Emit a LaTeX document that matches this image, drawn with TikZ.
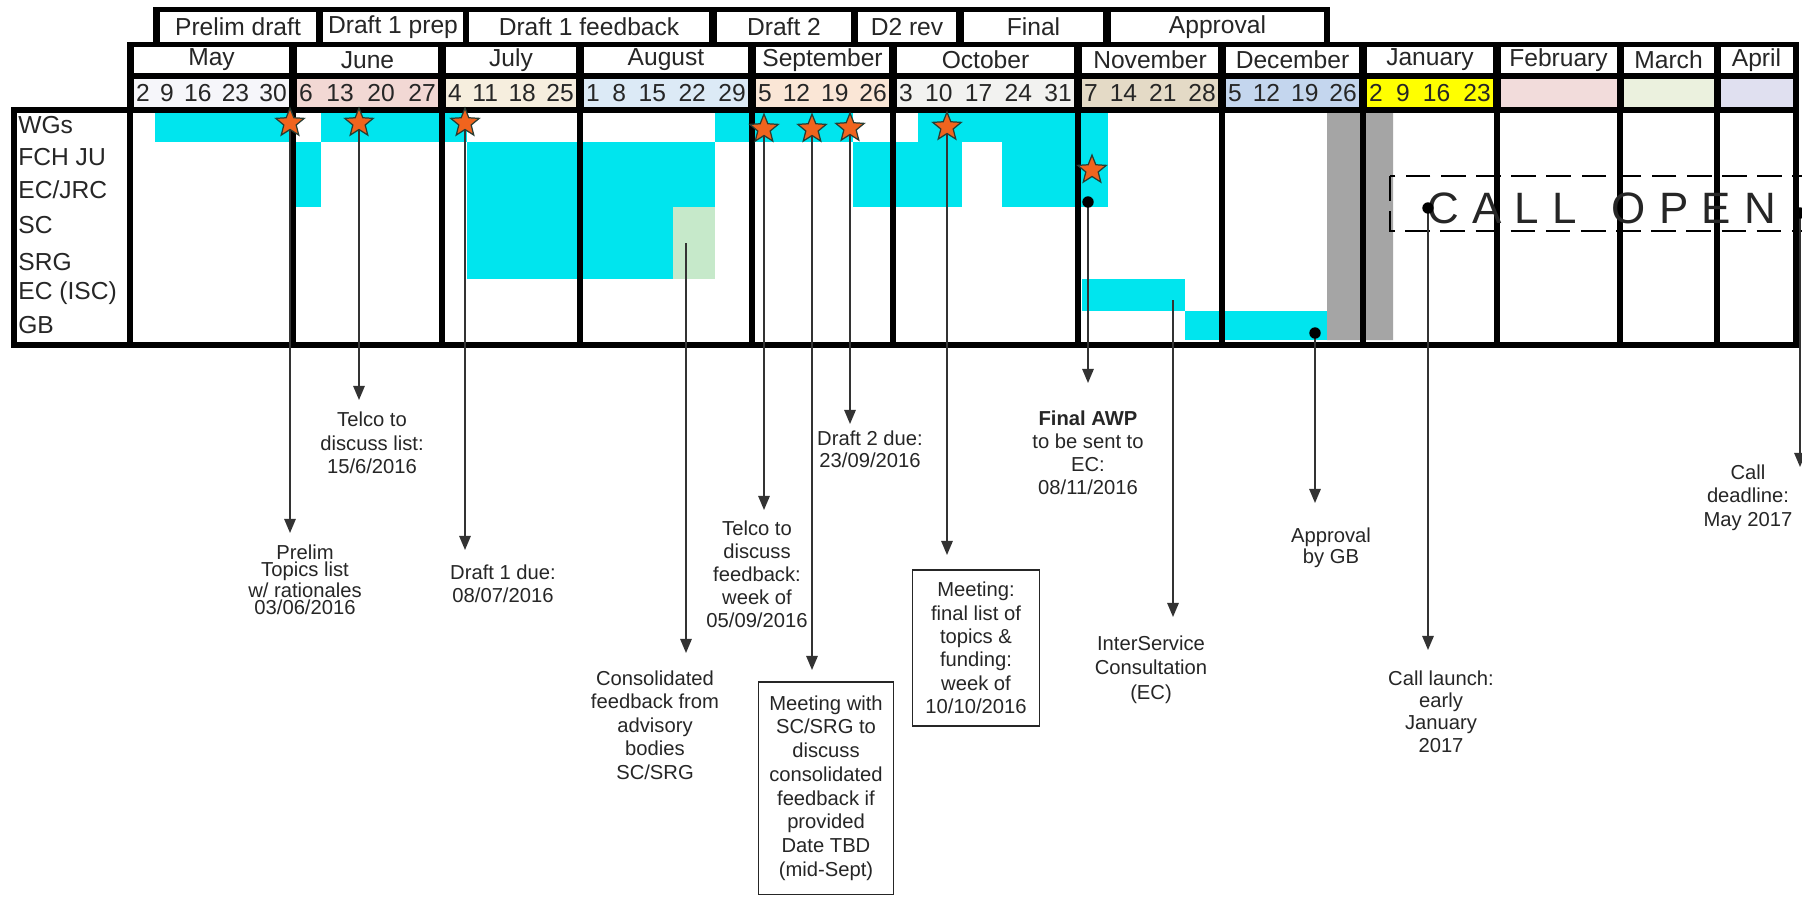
\documentclass[tikz,border=0pt]{standalone}
\usepackage{fontspec}
\setmainfont{Liberation Sans}
\usepackage{tikz}
\usetikzlibrary{shapes.geometric,arrows.meta}

\definecolor{barcyan}{RGB}{0,229,238}
\definecolor{bargreen}{RGB}{198,233,202}
\definecolor{bargray}{RGB}{165,165,165}
\definecolor{starfill}{RGB}{240,100,30}
\definecolor{starline}{RGB}{40,60,50}
\definecolor{dmay}{RGB}{246,246,250}
\definecolor{djun}{RGB}{242,216,212}
\definecolor{djul}{RGB}{246,238,222}
\definecolor{daug}{RGB}{220,234,246}
\definecolor{dsep}{RGB}{250,230,214}
\definecolor{doct}{RGB}{242,242,240}
\definecolor{dnov}{RGB}{228,218,198}
\definecolor{ddec}{RGB}{196,214,238}
\definecolor{djan}{RGB}{255,255,0}
\definecolor{dfeb}{RGB}{242,220,219}
\definecolor{dmar}{RGB}{235,241,222}
\definecolor{dapr}{RGB}{224,224,240}

\newcommand\hdrfont{\fontsize{14}{16}\selectfont}
\newcommand\notefont{\fontsize{11.5}{13.1}\selectfont}
\newcommand\ls{\kern7.5pt}

\begin{document}
\begin{tikzpicture}
  [x=0.02cm,y=-0.02cm,
   frame/.style={line width=2.9pt},
   cell/.style={fill=white, inner sep=0pt, font=\hdrfont, text=black!85},
   bar/.style={fill=barcyan},
   mstar/.style={star, star points=5, star point ratio=2.3, fill=starfill, draw=starline, line width=0.7pt, minimum size=17pt, inner sep=0pt},
   mdot/.style={circle, fill=black, minimum size=6.5pt, inner sep=0pt},
   conn/.style={draw=black!80, line width=0.9pt, -{Triangle[width=6.5pt,length=8pt]}},
   note/.style={align=center, inner sep=0pt, anchor=north, font=\notefont, text=black!85},
   notebox/.style={note, draw=black!85, line width=0.9pt, anchor=center}]

  \useasboundingbox[fill=white] (0,0) rectangle (1802,896);

  % activity bars
  \foreach \xa/\ya/\xb/\yb in {155/112/293/142, 293/142/321/207, 321/112/467/142, 467/142/715/207, 467/207/673/279, 715/112/853/142, 853/142/918/207, 918/112/962/207, 962/112/1002/142, 1002/112/1108/207, 1082/279/1185/311, 1185/311/1327/340}
    \fill[bar] (\xa,\ya) rectangle (\xb,\yb);
  \fill[bargreen] (673,207) rectangle (715,279);
  \fill[bargray] (1327,112) rectangle (1360,340) (1366,112) rectangle (1393,340);

  % header bands
  \fill (153,7) rectangle (1330,46);
  \fill (127,42) rectangle (1799,112);

  \foreach \ph/\a/\b [count=\i] in {Prelim draft/160/316, Draft 1 prep/323/463, Draft 1 feedback/469/709, Draft 2/717/851, D2 rev/858/956, Final/964/1103, Approval/1111/1324}{
    \pgfmathsetmacro\cx{(\a+\b)/2}
    \pgfmathsetmacro\cw{(\b-\a)*0.569}
    \node[cell, minimum width=\cw pt, minimum height=17pt] (p\i) at (\cx,27) {\ph};
  }

  \foreach \mon/\a/\b/\days/\col [count=\i] in {May/130/293/{2\hfill 9\hfill 16\hfill 23\hfill 30}/dmay, June/293/442/{6\hfill 13\hfill 20\hfill 27}/djun, July/442/580/{4\hfill 11\hfill 18\hfill 25}/djul, August/580/752/{1\hfill 8\hfill 15\hfill 22\hfill 29}/daug, September/752/893/{5\hfill 12\hfill 19\hfill 26}/dsep, October/893/1078/{3\hfill 10\hfill 17\hfill 24\hfill 31}/doct, November/1078/1222/{7\hfill 14\hfill 21\hfill 28}/dnov, December/1222/1363/{5\hfill 12\hfill 19\hfill 26}/ddec, January/1363/1497/{2\hfill 9\hfill 16\hfill 23}/djan, February/1497/1620/{}/dfeb, March/1620/1717/{}/dmar, April/1717/1796/{}/dapr}{
    \pgfmathsetmacro\cx{(\a+\b)/2}
    \pgfmathsetmacro\cw{(\b-\a-7)*0.569}
    \pgfmathsetmacro\tw{\cw-3}
    \node[cell, minimum width=\cw pt, minimum height=14.8pt] (m\i) at (\cx,60) {\mon};
    \node[cell, fill=\col, minimum width=\cw pt, minimum height=15.9pt, text width=\tw pt] (w\i) at (\cx,93) {\days};
  }

  % grid
  \draw[frame] (14,110) rectangle (1796,345);
  \foreach \x in {130,293,442,580,752,893,1078,1222,1363,1497,1620,1717}
    \draw[frame] (\x,110) -- (\x,345);

  \foreach \lab/\y [count=\i] in {WGs/125, FCH JU/157, {EC/JRC}/190, SC/225, SRG/262, EC (ISC)/293, GB/325}
    \node[anchor=west, inner sep=0pt, font=\hdrfont, text=black!85] (r\i) at (18,\y) {\lab};

  % call open
  \draw[line width=1.6pt, dash pattern=on 14pt off 6pt] (1390,176) rectangle (1812,231);
  \node[anchor=west, inner sep=0pt, font=\fontsize{25}{30}\selectfont, text=black!85] (co) at (1427,208) {C\ls A\ls L\ls L\kern20pt O\ls P\ls E\ls N};

  % events and arrow tips
  \foreach \n/\x/\y in {1/290/123, 2/359/123, 3/465/123, 4/686/243, 5/764/129, 6/812/129, 7/850/128, 8/947/127, 9/1088/202, 10/1173/300, 11/1315/333, 12/1428/208, 13/1800/213, 14/1092/170}
    \coordinate (e\n) at (\x,\y);
  \foreach \n/\x/\y in {1/290/533, 2/359/400, 3/465/550, 4/686/653, 5/764/510, 6/812/670, 7/850/424, 8/947/555, 9/1088/383, 10/1173/617, 11/1315/503, 12/1428/650, 13/1800/467}
    \coordinate (t\n) at (\x,\y);

  \foreach \from/\to in {e1/t1, e2/t2, e3/t3, e4/t4, e5/t5, e6/t6, e7/t7, e8/t8, e9/t9, e10/t10, e11/t11, e12/t12, e13/t13}
    \draw[conn] (\from) -- (\to);

  \foreach \n in {1,2,3,5,6,7,8,14}
    \node[mstar] (s\n) at (e\n) {};
  \foreach \n in {9,11,12,13}
    \node[mdot] (d\n) at (e\n) {};

  % notes
  \node[note, font=\fontsize{11.5}{10}\selectfont] (l1) at (305,544) {Prelim\\Topics list\\w/ rationales\\03/06/2016};
  \node[note] (l2) at (372,412) {Telco to\\discuss list:\\15/6/2016};
  \node[note] (l3) at (503,564) {Draft 1 due:\\08/07/2016};
  \node[note, font=\fontsize{11.5}{13.4}\selectfont] (l4) at (655,670) {Consolidated\\feedback from\\advisory\\bodies\\SC/SRG};
  \node[note] (l5) at (757,520) {Telco to\\discuss\\feedback:\\week of\\05/09/2016};
  \node[notebox, minimum width=76.8pt, minimum height=121pt, font=\fontsize{11.5}{13.5}\selectfont] (l6) at (826,788) {Meeting with\\SC/SRG to\\discuss\\consolidated\\feedback if\\provided\\Date TBD\\(mid-Sept)};
  \node[note, font=\fontsize{11.5}{12.8}\selectfont] (l7) at (870,430) {Draft 2 due:\\23/09/2016};
  \node[notebox, minimum width=72.3pt, minimum height=88.8pt, font=\fontsize{11.5}{13.3}\selectfont] (l8) at (976,648) {Meeting:\\final list of\\topics \&\\funding:\\week of\\10/10/2016};
  \node[note] (l9) at (1088,410) {\textbf{Final AWP}\\to be sent to\\EC:\\08/11/2016};
  \node[note, font=\fontsize{11.5}{14}\selectfont] (l10) at (1151,635) {InterService\\Consultation\\(EC)};
  \node[note, font=\fontsize{11.5}{12.5}\selectfont] (l11) at (1331,527) {Approval\\by GB};
  \node[note, font=\fontsize{11.5}{12.8}\selectfont] (l12) at (1441,670) {Call launch:\\early\\January\\2017};
  \node[note, font=\fontsize{11.5}{13.6}\selectfont] (l13) at (1748,464) {Call\\deadline:\\May 2017};
\end{tikzpicture}
\end{document}
